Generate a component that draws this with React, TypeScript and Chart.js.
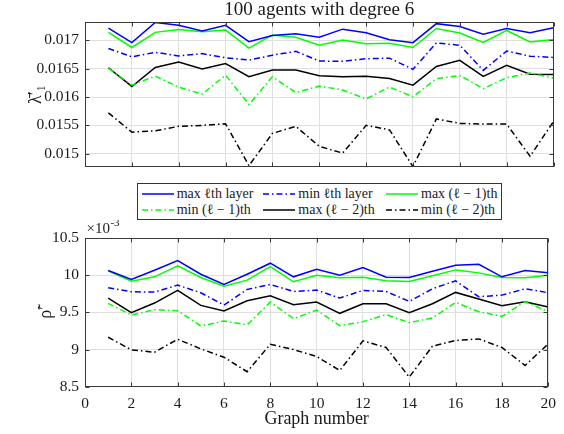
import React, { useEffect, useRef } from "react";
import { Chart, registerables } from "chart.js";

Chart.register(...registerables);

// ---------- data ----------
const graphNumbers = [1, 2, 3, 4, 5, 6, 7, 8, 9, 10, 11, 12, 13, 14, 15, 16, 17, 18, 19, 20];

// top panel: lambda-bar'_1
const lamMaxL = [0.017216, 0.01696, 0.017318, 0.017267, 0.017165, 0.017267, 0.016977, 0.017085, 0.017119, 0.017057, 0.017199, 0.017136, 0.017011, 0.01696, 0.017296, 0.017244, 0.017108, 0.01721, 0.017136, 0.017222];
const lamMinL = [0.016858, 0.01671, 0.01679, 0.016727, 0.016767, 0.016693, 0.016653, 0.016739, 0.016807, 0.016636, 0.016631, 0.016676, 0.016687, 0.016489, 0.016955, 0.016915, 0.016471, 0.016812, 0.016722, 0.016699];
const lamMaxL1 = [0.017142, 0.016875, 0.017142, 0.017193, 0.017153, 0.017182, 0.016864, 0.017097, 0.017057, 0.016915, 0.017006, 0.016943, 0.016949, 0.016875, 0.01721, 0.017131, 0.016966, 0.017176, 0.016972, 0.017017];
const lamMinL1 = [0.016506, 0.01621, 0.016369, 0.016176, 0.016051, 0.016386, 0.015869, 0.016358, 0.016079, 0.016193, 0.016125, 0.015966, 0.016176, 0.016005, 0.016324, 0.016381, 0.016148, 0.016341, 0.016426, 0.016335];
const lamMaxL2 = [0.016517, 0.016187, 0.016523, 0.016619, 0.016494, 0.016591, 0.016358, 0.016477, 0.016477, 0.016375, 0.016358, 0.016369, 0.016329, 0.01621, 0.01654, 0.016648, 0.016363, 0.016562, 0.016403, 0.016398];
const lamMinL2 = [0.015721, 0.01538, 0.015403, 0.015483, 0.0155, 0.015528, 0.014789, 0.015358, 0.015483, 0.01513, 0.015011, 0.0155, 0.01542, 0.014772, 0.015613, 0.015534, 0.015522, 0.015522, 0.014954, 0.015568];

// bottom panel: rho-tilde' (in units of 1e-3)
const rhoMaxL = [10.062, 9.942, 10.067, 10.196, 10.013, 9.875, 10.013, 10.161, 9.978, 10.08, 10.0, 10.103, 9.973, 9.969, 10.054, 10.134, 10.147, 9.978, 10.062, 10.031];
const rhoMinL = [9.83, 9.777, 9.772, 9.866, 9.763, 9.598, 9.808, 9.875, 9.781, 9.799, 9.692, 9.795, 9.781, 9.647, 9.817, 9.924, 9.71, 9.732, 9.817, 9.763];
const rhoMaxL1 = [10.058, 9.92, 9.978, 10.125, 9.969, 9.853, 9.933, 10.116, 9.911, 10.0, 9.964, 9.973, 9.924, 9.915, 9.991, 10.071, 10.031, 9.969, 9.964, 10.0];
const rhoMinL1 = [9.621, 9.464, 9.536, 9.522, 9.317, 9.384, 9.33, 9.638, 9.415, 9.531, 9.321, 9.375, 9.469, 9.362, 9.424, 9.634, 9.509, 9.446, 9.643, 9.509];
const rhoMaxL2 = [9.692, 9.496, 9.625, 9.795, 9.594, 9.518, 9.656, 9.723, 9.603, 9.638, 9.487, 9.616, 9.616, 9.496, 9.616, 9.768, 9.679, 9.589, 9.643, 9.571];
const rhoMinL2 = [9.165, 8.996, 8.964, 9.138, 9.009, 8.897, 8.701, 9.071, 9.0, 8.906, 8.719, 9.116, 9.027, 8.629, 9.045, 9.121, 9.143, 9.027, 8.786, 9.076];

const seriesLabels = ["max ℓth layer", "min ℓth layer", "max (ℓ − 1)th", "min (ℓ − 1)th", "max (ℓ − 2)th", "min (ℓ − 2)th"];
const titleText = "100 agents with degree 6";
const xTitle = "Graph number";
const topYTitle = "λ̄′₁";
const bottomYTitle = "ρ̃′";
const topYMin = 0.01477;
const topYMax = 0.01732;
const bottomYMin = 8.5;
const bottomYMax = 10.5;

// ---------- styles ----------
const FONT = "'Liberation Serif', 'DejaVu Serif', serif";
const BLUE = "#0000ff";
const GREEN = "#00ff00";
const BLACK = "#000000";
const DASHDOT = [6, 3, 1.5, 3];
const seriesStyles = [
  { color: BLUE, dash: [] as number[] },
  { color: BLUE, dash: DASHDOT },
  { color: GREEN, dash: [] as number[] },
  { color: GREEN, dash: DASHDOT },
  { color: BLACK, dash: [] as number[] },
  { color: BLACK, dash: DASHDOT },
];
const GRID = "#dfdfdf";
const AXIS = "#3a3a3a";
const TEXT = "#1a1a1a";
const TICK_SIZE = 15.5;
const LABEL_SIZE = 18;

function makeDatasets(arrays: number[][]) {
  return arrays.map((arr, i) => ({
    label: seriesLabels[i],
    data: arr.map((v, j) => ({ x: graphNumbers[j], y: v })),
    borderColor: seriesStyles[i].color,
    backgroundColor: seriesStyles[i].color,
    borderDash: seriesStyles[i].dash,
    borderWidth: 1.5,
    pointRadius: 0,
    tension: 0,
    fill: false,
  }));
}

const boxPlugin = {
  id: "matlabBox",
  afterDraw(chart: any) {
    const { ctx, chartArea: a, scales } = chart;
    ctx.save();
    ctx.strokeStyle = AXIS;
    ctx.lineWidth = 1;
    const l = Math.round(a.left) + 0.5;
    const r = Math.round(a.right) - 0.5;
    const t = Math.round(a.top) + 0.5;
    const b = Math.round(a.bottom) - 0.5;
    ctx.strokeRect(l, t, r - l, b - t);
    const tl = 4;
    ctx.beginPath();
    scales.y.ticks.forEach((tk: any) => {
      const py = Math.round(scales.y.getPixelForValue(tk.value)) + 0.5;
      ctx.moveTo(l, py); ctx.lineTo(l + tl, py);
      ctx.moveTo(r, py); ctx.lineTo(r - tl, py);
    });
    scales.x.ticks.forEach((tk: any) => {
      const px = Math.round(scales.x.getPixelForValue(tk.value)) + 0.5;
      ctx.moveTo(px, b); ctx.lineTo(px, b - tl);
      ctx.moveTo(px, t); ctx.lineTo(px, t + tl);
    });
    ctx.stroke();
    ctx.restore();
  },
};

// Title centred over the axes (MATLAB style)
const axesTitlePlugin = {
  id: "axesTitle",
  afterDraw(chart: any) {
    const { ctx, chartArea: a } = chart;
    ctx.save();
    ctx.fillStyle = TEXT;
    ctx.textAlign = "center";
    ctx.textBaseline = "middle";
    ctx.font = `19px ${FONT}`;
    ctx.fillText(titleText, (a.left + a.right) / 2, 10.5);
    ctx.restore();
  },
};

const exponentPlugin = {
  id: "exponentLabel",
  afterDraw(chart: any) {
    const { ctx, chartArea: a } = chart;
    ctx.save();
    ctx.fillStyle = TEXT;
    ctx.textBaseline = "alphabetic";
    ctx.textAlign = "left";
    ctx.font = `15px ${FONT}`;
    const base = a.top - 5.5;
    const x0 = a.left + 1.5;
    ctx.fillText("×10", x0, base);
    const w = ctx.measureText("×10").width;
    ctx.font = `11px ${FONT}`;
    ctx.fillText("-3", x0 + w + 0.5, base - 6.5);
    ctx.restore();
  },
};

function TopChart() {
  const ref = useRef<HTMLCanvasElement>(null);
  useEffect(() => {
    const chart = new Chart(ref.current!, {
      type: "line",
      data: { datasets: makeDatasets([lamMaxL, lamMinL, lamMaxL1, lamMinL1, lamMaxL2, lamMinL2]) as any },
      options: {
        responsive: false,
        animation: false,
        events: [],
        layout: { padding: { left: 0, right: 10.5, top: 22.3, bottom: 0 } },
        plugins: {
          legend: { display: false },
          tooltip: { enabled: false },
          title: { display: false },
        },
        scales: {
          x: {
            type: "linear",
            min: 0,
            max: 20,
            ticks: { display: false, stepSize: 2 },
            grid: { color: GRID, drawTicks: false },
            border: { display: false },
            afterFit: (s: any) => { s.height = 10; },
          },
          y: {
            type: "linear",
            min: topYMin,
            max: topYMax,
            ticks: {
              stepSize: 0.0005,
              includeBounds: false,
              padding: 6,
              color: TEXT,
              font: { family: FONT, size: TICK_SIZE },
              callback: (v: any) => String(Number(Number(v).toFixed(4))),
            },
            grid: { color: GRID, drawTicks: false },
            border: { display: false },
            title: {
              display: true,
              text: topYTitle,
              color: TEXT,
              font: { family: FONT, size: LABEL_SIZE },
              padding: { top: 25, bottom: 0 },
            },
            afterFit: (s: any) => { s.width = 85; },
          },
        },
      } as any,
      plugins: [boxPlugin, axesTitlePlugin],
    });
    return () => chart.destroy();
  }, []);
  return (
    <canvas ref={ref} width={564} height={182}
      style={{ position: "absolute", left: 0, top: 0, width: 564, height: 182 }} />
  );
}

function BottomChart() {
  const ref = useRef<HTMLCanvasElement>(null);
  useEffect(() => {
    const chart = new Chart(ref.current!, {
      type: "line",
      data: { datasets: makeDatasets([rhoMaxL, rhoMinL, rhoMaxL1, rhoMinL1, rhoMaxL2, rhoMinL2]) as any },
      options: {
        responsive: false,
        animation: false,
        events: [],
        layout: { padding: { left: 0, right: 10.5, top: 18, bottom: 0 } },
        plugins: { legend: { display: false }, tooltip: { enabled: false } },
        scales: {
          x: {
            type: "linear",
            min: 0,
            max: 20,
            ticks: {
              stepSize: 2,
              padding: 8,
              maxRotation: 0,
              color: TEXT,
              font: { family: FONT, size: TICK_SIZE },
            },
            grid: { color: GRID, drawTicks: false },
            border: { display: false },
            title: {
              display: true,
              text: xTitle,
              color: TEXT,
              font: { family: FONT, size: LABEL_SIZE },
              padding: { top: 0, bottom: 4 },
            },
            afterFit: (s: any) => { s.height = 47.3; },
          },
          y: {
            type: "linear",
            min: bottomYMin,
            max: bottomYMax,
            ticks: {
              stepSize: 0.5,
              includeBounds: false,
              padding: 6,
              color: TEXT,
              font: { family: FONT, size: TICK_SIZE },
              callback: (v: any) => String(Number(Number(v).toFixed(1))),
            },
            grid: { color: GRID, drawTicks: false },
            border: { display: false },
            title: {
              display: true,
              text: bottomYTitle,
              color: TEXT,
              font: { family: FONT, size: LABEL_SIZE },
              padding: { top: 35, bottom: 0 },
            },
            afterFit: (s: any) => { s.width = 85; },
          },
        },
      } as any,
      plugins: [boxPlugin, exponentPlugin],
    });
    return () => chart.destroy();
  }, []);
  return (
    <canvas ref={ref} width={564} height={214}
      style={{ position: "absolute", left: 0, top: 220, width: 564, height: 214 }} />
  );
}

const legendLayout = [
  { sx: 141.7, tx: 176.7, y: 194 },
  { sx: 263.3, tx: 298.3, y: 194 },
  { sx: 386, tx: 421, y: 194 },
  { sx: 141.7, tx: 176.7, y: 210 },
  { sx: 263.3, tx: 298.3, y: 210 },
  { sx: 386, tx: 421, y: 210 },
];

function Legend() {
  return (
    <div>
      <div style={{
        position: "absolute", left: 136.5, top: 183, width: 365, height: 36.5,
        border: "1px solid #333", background: "#fff", boxSizing: "border-box",
      }} />
      {seriesLabels.map((lab, i) => {
        const p = legendLayout[i];
        const st = seriesStyles[i];
        return (
          <React.Fragment key={i}>
            <svg width={32} height={4} style={{ position: "absolute", left: p.sx, top: p.y - 2 }}>
              <line x1={0} y1={2} x2={32} y2={2} stroke={st.color} strokeWidth={1.5}
                strokeDasharray={st.dash.length ? st.dash.join(" ") : undefined} />
            </svg>
            <div style={{
              position: "absolute", left: p.tx, top: p.y - 9, height: 18, lineHeight: "18px",
              fontFamily: FONT, fontSize: 14, color: TEXT, whiteSpace: "nowrap",
            }}>{lab}</div>
          </React.Fragment>
        );
      })}
    </div>
  );
}

export default function App() {
  return (
    <div style={{ position: "absolute", left: 0, top: 0, width: 564, height: 434, background: "#fff", overflow: "hidden" }}>
      <TopChart />
      <Legend />
      <BottomChart />
    </div>
  );
}
